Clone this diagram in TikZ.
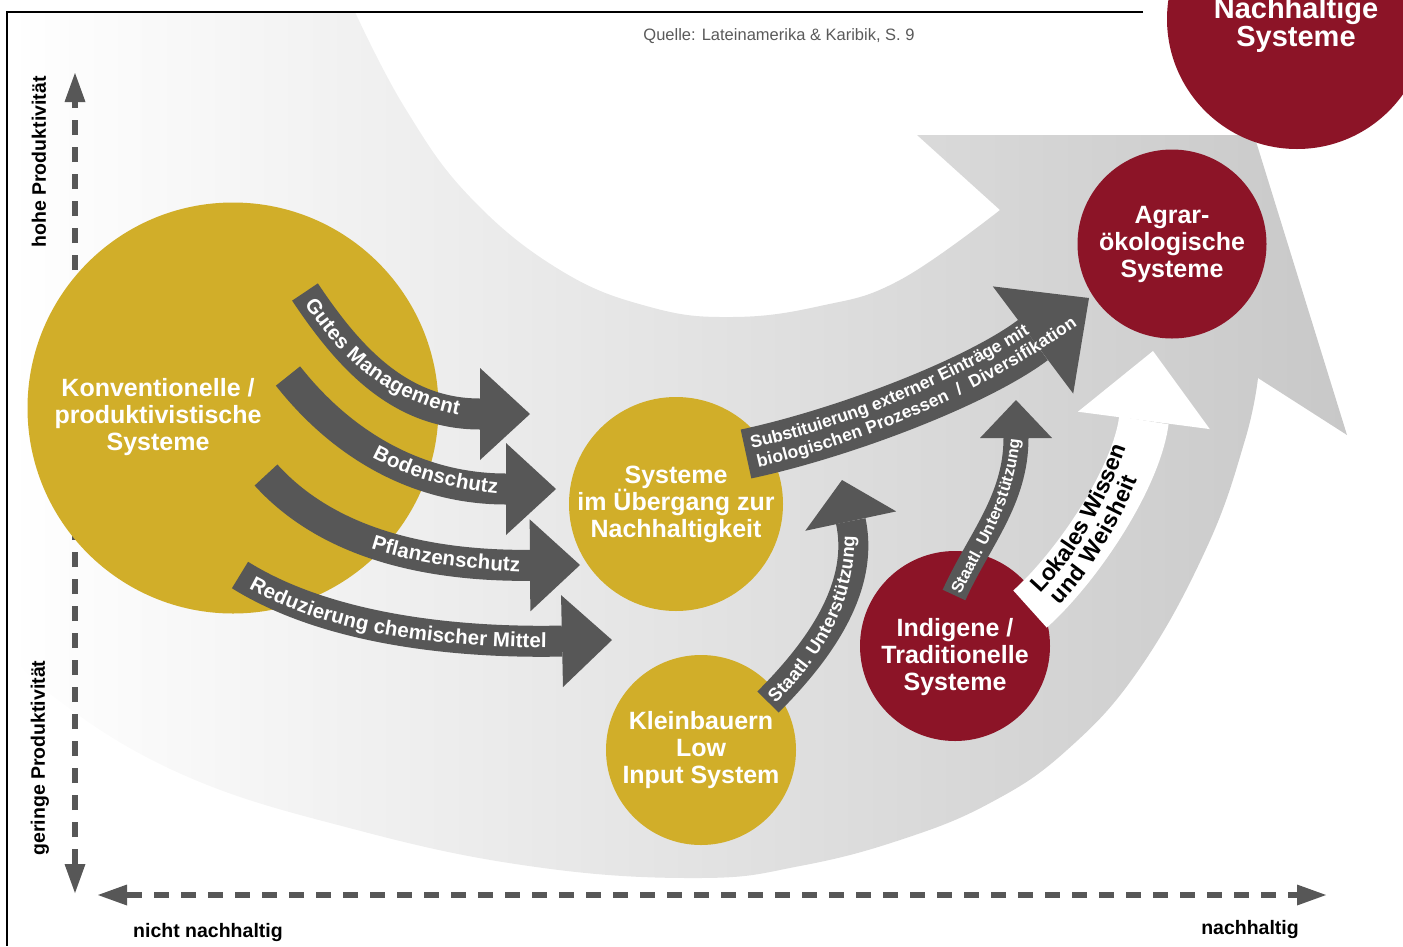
\documentclass[tikz,border=0pt]{standalone}
\usepackage{fontspec}
\setmainfont{Liberation Sans}
\usetikzlibrary{arrows.meta}
\usetikzlibrary{decorations.text}

\definecolor{sysgold}{RGB}{209,174,41}
\definecolor{sysred}{RGB}{140,20,39}
\definecolor{darkarrow}{RGB}{87,87,87}
\definecolor{bandgray}{RGB}{200,200,200}
\definecolor{srcgray}{RGB}{90,90,90}

\newcommand\wfont[1]{\bfseries\fontsize{#1}{#1}\selectfont\color{white}}
\newcommand\kfont[1]{\bfseries\fontsize{#1}{#1}\selectfont\color{black}}

\begin{document}
\begin{tikzpicture}[x=1pt,y=-1pt,
  syscircle/.style={circle,inner sep=0pt,text=white,align=center,font=\bfseries\fontsize{25}{27}\selectfont},
  systext/.style={text=white,align=center,font=\bfseries\fontsize{25}{27}\selectfont},
  band/.style n args={3}{line width=#1,-{Triangle[length=#2,width=#3,line width=0pt]}},
  bandlabel/.style={decorate,decoration={text along path}},
  axis/.style={darkarrow,line width=6pt,dash pattern=on 15pt off 12pt,>={Triangle[length=29pt,width=21pt,line width=0pt]},<->},
  axislabel/.style={font=\bfseries\fontsize{19.5}{20}\selectfont}]
\useasboundingbox (0,0) rectangle (1403,946);
\clip (0,0) rectangle (1403,946);

% big grey band bending up to the right
\shade[left color=white,right color=bandgray] (8,12) -- (355,12)
  -- plot[smooth,tension=0.7] coordinates {(355,12) (405,108) (470,197) (560,270) (650,307) (732,317) (820,306) (900,280) (1000,210)}
  -- (917,135) -- (1254,135) -- (1347,435) -- (1258,378)
  -- plot[smooth,tension=0.7] coordinates {(1258,378) (1245,440) (1207,547) (1140,668) (1067,750) (990,803) (900,840) (800,866) (700,878) (536,867) (357,830) (179,773) (45,690) (8,640)}
  -- cycle;

\draw[line width=2.6pt] (1143,12) -- (7,12) -- (7,946);
\node[text=srcgray,font=\fontsize{16.5}{18}\selectfont] (quelle) at (779,36) {Quelle: Lateinamerika \& Karibik, S. 9};

% axes
\coordinate (ytop) at (75,73);
\coordinate (ybot) at (75,893);
\coordinate (xleft) at (98,895);
\coordinate (xright) at (1326,895);
\draw[axis] (ybot) -- (ytop);
\draw[axis] (xleft) -- (xright);
\node[axislabel,rotate=90] (hohe) at (39,162) {hohe Produktivität};
\node[axislabel,rotate=90] (geringe) at (40,758) {geringe Produktivität};
\node[axislabel] (nicht) at (208,932) {nicht nachhaltig};
\node[axislabel] (nachh) at (1250,929) {nachhaltig};

% systems
\node[syscircle,fill=sysgold,minimum size=411pt] (konv) at (233,408) {};
\node[systext] (konvtext) at (158,417) {Konventionelle /\\produktivistische\\Systeme};
\node[syscircle,fill=sysgold,minimum size=214pt] (uebergang) at (676,504) {Systeme\\im Übergang zur\\Nachhaltigkeit};
\node[syscircle,fill=sysgold,minimum size=190pt] (klein) at (701,750) {Kleinbauern\\Low\\Input System};
\node[syscircle,fill=sysred,minimum size=190pt] (indigen) at (955,646) {};
\node[systext] (indigentext) at (955,657) {Indigene /\\Traditionelle\\Systeme};
\node[syscircle,fill=sysred,minimum size=189pt] (agrar) at (1172,244) {Agrar-\\ökologische\\Systeme};

% arrows out of the conventional systems
\coordinate (gmS) at (305,292); \coordinate (gmE) at (530,414);
\coordinate (bsS) at (288,376); \coordinate (bsE) at (556,489);
\coordinate (psS) at (266,475); \coordinate (psE) at (580,565);
\coordinate (rcS) at (240,575); \coordinate (rcE) at (612,640);
\draw[darkarrow,band={31pt}{50pt}{92pt}] (gmS) .. controls (349,358) and (400,414) .. (gmE);
\draw[darkarrow,band={31pt}{50pt}{92pt}] (bsS) .. controls (344,447) and (420,489) .. (bsE);
\draw[darkarrow,band={31pt}{50pt}{92pt}] (psS) .. controls (333,549) and (440,566) .. (psE);
\draw[darkarrow,band={31pt}{50pt}{92pt}] (rcS) .. controls (333,633) and (470,643) .. (rcE);
\path[bandlabel,decoration={text={|\wfont{20.5}|Gutes Management},text align={left,left indent=10pt},raise=-7.5pt}]
  (gmS) .. controls (349,358) and (400,414) .. (gmE);
\path[bandlabel,decoration={text={|\wfont{20.5}|Bodenschutz},text align={right,right indent=58pt},raise=-7.5pt}]
  (bsS) .. controls (344,447) and (420,489) .. (bsE);
\path[bandlabel,decoration={text={|\wfont{20.5}|Pflanzenschutz},text align={right,right indent=60pt},raise=-7.5pt}]
  (psS) .. controls (333,549) and (440,566) .. (psE);
\path[bandlabel,decoration={text={|\wfont{20.5}|Reduzierung chemischer Mittel},text align={left,left indent=14pt},raise=-7.5pt}]
  (rcS) .. controls (333,633) and (470,643) .. (rcE);

% transition to agro-ecology
\coordinate (sbS) at (746,454); \coordinate (sbE) at (1089,298);
\draw[darkarrow,band={50pt}{70pt}{134pt}] (sbS) .. controls (844,433) and (977,382) .. (sbE);
\path[bandlabel,decoration={text={|\wfont{17.5}|Substituierung externer Einträge mit},text align={left,left indent=7pt},raise=4pt}]
  (sbS) .. controls (844,433) and (977,382) .. (sbE);
\path[bandlabel,decoration={text={|\wfont{17.5}|biologischen Prozessen\ \ /\ \ Diversifikation},text align={left,left indent=9pt},raise=-15.5pt}]
  (sbS) .. controls (844,433) and (977,382) .. (sbE);

% state support
\coordinate (suaS) at (768,702); \coordinate (suaE) at (842,480);
\draw[darkarrow,band={30pt}{42pt}{93pt}] (suaS) .. controls (818,652) and (865,588) .. (suaE);
\path[bandlabel,decoration={text={|\wfont{18.5}|Staatl. Unterstützung},text align={left,left indent=4pt},raise=-6.7pt}]
  (suaS) .. controls (818,652) and (865,588) .. (suaE);
\coordinate (subS) at (954,595); \coordinate (subE) at (1016,400);
\draw[darkarrow,band={25pt}{38pt}{72pt}] (subS) .. controls (979,540) and (1016,500) .. (subE);
\path[bandlabel,decoration={text={|\wfont{16.5}|Staatl. Unterstützung},text align={left,left indent=3pt},raise=-6pt}]
  (subS) .. controls (979,540) and (1016,500) .. (subE);

% local knowledge
\coordinate (lwS) at (1030,609); \coordinate (lwE) at (1153,351);
\draw[white,band={50pt}{70pt}{133pt}] (lwS) .. controls (1075,569) and (1136,480) .. (lwE);
\path[bandlabel,decoration={text={|\kfont{23}|Lokales Wissen},text align={left,left indent=18pt},raise=4pt}]
  (lwS) .. controls (1075,569) and (1136,480) .. (lwE);
\path[bandlabel,decoration={text={|\kfont{23}|und Weisheit},text align={left,left indent=22pt},raise=-18pt}]
  (lwS) .. controls (1075,569) and (1136,480) .. (lwE);

\node[syscircle,fill=sysred,minimum size=260pt] (nachhaltig) at (1297,19) {};
\node[systext,font=\bfseries\fontsize{29}{25}\selectfont] (nachhaltigtext) at (1296,25) {Nachhaltige\\Systeme};
\end{tikzpicture}
\end{document}
